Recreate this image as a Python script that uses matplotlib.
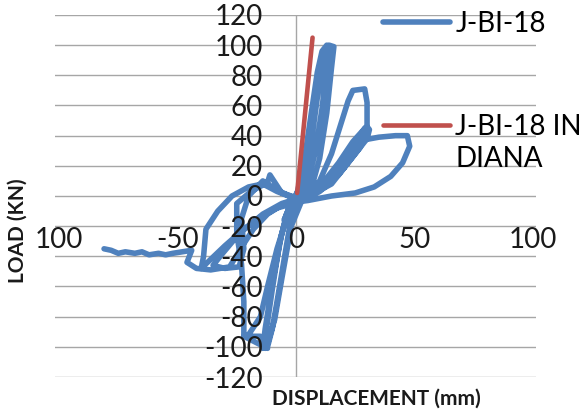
import matplotlib
matplotlib.use("Agg")
import matplotlib.pyplot as plt
from matplotlib.lines import Line2D

plt.rcParams['font.family'] = ['Lato', 'DejaVu Sans']

# ---- data (displacement mm, load kN) ----
test_disp = ([0, 2, 4, 3, 0, -3, -5, -3, 0]
             + [3, 6, 9, 11, 13, 14, 13, 11, 8, 5, 2]
             + [-2, -5, -8, -10, -12, -13, -13, -10, -7, -4, -1]
             + [3, 6, 9, 12, 14, 16, 15, 13, 10, 7, 3]
             + [-2, -6, -9, -12, -14, -13, -10, -6, -3, 0]
             + [5, 10, 15, 19, 22, 24, 29, 30, 30, 27, 20, 13, 6, 0]
             + [-4, -8, -12, -15, -20, -22, -15, -13, -12, -22, -22, -23, -25, -25, -19, -12, -11, -6, 0]
             + [6, 12, 18, 24, 28, 30, 31, 30, 25, 18, 10, 3]
             + [-8, -15, -22, -30, -36, -40, -39, -38, -33, -27, -20, -14, -8, 0]
             + [8, 16, 24, 29, 30, 27, 20, 12, 4]
             + [-6, -14, -24, -32, -35, -30, -24, -22, -23, -20, -14, -8, 0]
             + [8, 15, 20, 25, 28, 35, 42, 47, 48, 45, 40, 33, 25, 15, 5, 0]
             + [-6, -12, -18, -23, -28, -36, -42, -46, -44]
             + [-48, -52, -55, -58, -62, -65, -68, -72, -75, -78, -81])
test_load = ([0, 6, 14, 9, 1, -8, -16, -9, -1]
             + [18, 50, 82, 96, 100, 99, 86, 58, 28, 10, 1]
             + [-14, -42, -70, -88, -100, -101, -94, -62, -32, -12, -3]
             + [4, 30, 65, 92, 100, 99, 85, 55, 25, 8, -1]
             + [-20, -55, -82, -98, -101, -88, -58, -25, -8, -3]
             + [2, 10, 28, 48, 63, 70, 71, 62, 47, 37, 20, 8, 1, -3]
             + [-15, -35, -60, -80, -92, -93, -93, -99, -101, -93, -70, -45, -25, -5, 3, 9, 14, 2, -1]
             + [2, 10, 22, 36, 43, 46, 44, 38, 28, 14, 3, -3]
             + [-8, -14, -22, -33, -42, -48, -40, -22, -10, 0, 6, 8, 3, -2]
             + [4, 15, 32, 45, 42, 32, 18, 7, 0]
             + [-5, -12, -25, -40, -46, -48, -47, -35, -15, 0, 10, 4, -2]
             + [2, 8, 18, 30, 37, 39, 40, 40, 33, 22, 13, 6, 2, 0, -3, -4]
             + [-6, -12, -22, -34, -47, -49, -48, -44, -36]
             + [-37, -38, -39, -38, -39, -37, -38, -37, -38, -36, -35])

diana_disp = [0.5, 7]
diana_load = [2, 105]

y_ticks = [-120, -100, -80, -60, -40, -20, 0, 20, 40, 60, 80, 100, 120]
x_ticks = [-100, -50, 0, 50, 100]
x_tick_labels = ['100', '-50', '0', '50', '100']

blue = '#4F81BD'
red = '#C0504D'

fig = plt.figure(figsize=(5.81, 4.15), dpi=100)
ax = fig.add_axes([55 / 581, 1 - 377 / 415, 481 / 581, 362 / 415])
ax.set_xlim(-101.7, 101.3)
ax.set_ylim(-120, 120)

for yv in y_ticks:
    ax.axhline(yv, color='#a6a6a6', lw=1.0, zorder=0)
ax.axvline(0, color='#a6a6a6', lw=1.0, zorder=0)

l1, = ax.plot(test_disp, test_load, color=blue, lw=4.0, solid_joinstyle='round',
              solid_capstyle='round', zorder=2)
l2, = ax.plot(diana_disp, diana_load, color=red, lw=3.3, solid_capstyle='round', zorder=2.1)

for s in ax.spines.values():
    s.set_visible(False)
ax.spines['left'].set_position(('data', 0))
ax.spines['bottom'].set_position(('data', 0))
ax.set_axisbelow(False)

ax.set_yticks(y_ticks)
ax.set_yticklabels([str(v) for v in y_ticks])
ax.set_xticks(x_ticks)
ax.set_xticklabels(x_tick_labels)
ax.tick_params(axis='both', length=0, labelsize=20, colors='#1a1a1a')
ax.tick_params(axis='y', pad=24)
ax.tick_params(axis='x', pad=22)

ax.set_xlabel('DISPLACEMENT (mm)', fontsize=15, fontweight='bold', va='center', color='#1a1a1a')
ax.xaxis.set_label_coords(0.669, -0.061)
ax.set_ylabel('LOAD (KN)', fontsize=15, fontweight='bold', va='center', color='#1a1a1a')
ax.yaxis.set_label_coords(-0.077, 0.405)

leg1 = ax.legend([l1], ['J-BI-18'], loc='center left',
                 bbox_to_anchor=(383 / 581, 1 - 24 / 415), bbox_transform=fig.transFigure,
                 frameon=False, fontsize=20, handlelength=2.4, handletextpad=0.2,
                 borderpad=0, borderaxespad=0)
ax.add_artist(leg1)
blank = Line2D([], [], color='none')
ax.legend([l2, blank], ['J-BI-18 IN', 'DIANA'], loc='upper left',
          bbox_to_anchor=(383 / 581, 1 - 114 / 415), bbox_transform=fig.transFigure,
          frameon=False, fontsize=20, handlelength=2.4, handletextpad=0.2,
          borderpad=0, borderaxespad=0, labelspacing=0.2)

fig.savefig('out.png', dpi=100)
